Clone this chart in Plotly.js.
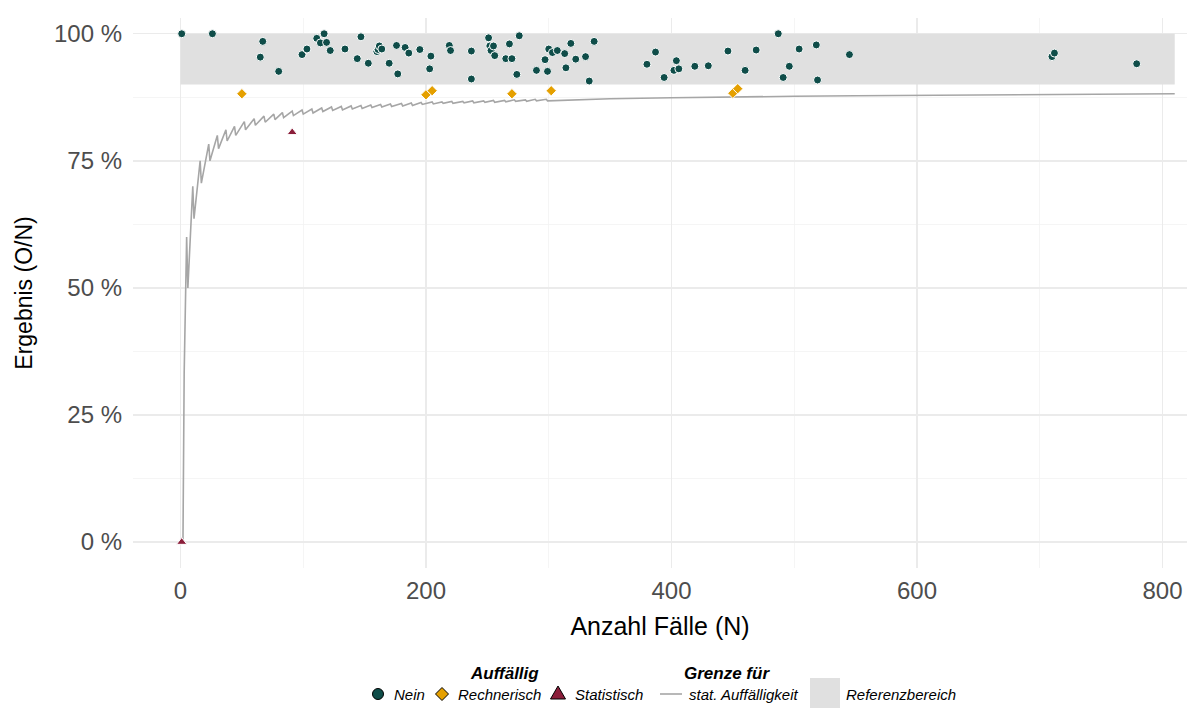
<!DOCTYPE html>
<html>
<head>
<meta charset="utf-8">
<script src="https://cdn.plot.ly/plotly-3.0.1.min.js"></script>
<style>html,body{margin:0;padding:0;background:#fff;}#chart{width:1194px;height:708px;}</style>
</head>
<body>
<div id="chart"></div>
<script>
// ---- Data ----
// Unauffällig (Nein): N, result
const neinN = [1, 26, 65, 67, 80, 99, 103, 111, 117, 114, 119, 122, 134, 147, 144, 153, 160, 161, 162, 164, 170, 176, 177, 183, 186, 195, 204, 203, 219, 220, 237, 237, 251, 252, 253, 255, 256, 265, 268, 270, 276, 274, 290, 297, 299, 300, 303, 307, 313, 318, 314, 322, 330, 333, 337, 380, 387, 394, 402, 404, 406, 419, 430, 446, 469, 460, 487, 491, 496, 504, 518, 519, 545, 710, 712, 779];
const neinY = [1.000, 1.000, 0.954, 0.985, 0.926, 0.959, 0.970, 0.991, 1.000, 0.982, 0.983, 0.967, 0.970, 0.994, 0.951, 0.942, 0.965, 0.969, 0.976, 0.970, 0.942, 0.977, 0.921, 0.973, 0.962, 0.969, 0.956, 0.931, 0.977, 0.967, 0.966, 0.911, 0.992, 0.976, 0.967, 0.976, 0.957, 0.951, 0.980, 0.951, 0.996, 0.920, 0.928, 0.949, 0.926, 0.970, 0.963, 0.967, 0.961, 0.981, 0.933, 0.950, 0.955, 0.907, 0.985, 0.940, 0.964, 0.914, 0.928, 0.947, 0.931, 0.936, 0.937, 0.966, 0.968, 0.928, 1.000, 0.914, 0.936, 0.970, 0.978, 0.909, 0.959, 0.955, 0.962, 0.941];
// Rechnerisch auffällig
const rechN = [50, 200, 205, 270, 302, 450, 454];
const rechY = [0.882, 0.880, 0.888, 0.882, 0.888, 0.883, 0.892];
// Statistisch auffällig
const statN = [1, 91];
const statY = [0.000, 0.806];
// Grenze für statistische Auffälligkeit (read along the sawtooth)
const grenzeN = [1, 2, 3, 4, 5, 6, 10, 11, 16, 17, 23, 24, 30, 31, 37, 38, 44, 45, 52, 53, 60, 61, 68, 69, 76, 77, 83, 84, 91, 92, 99, 100, 107, 108, 115, 116, 123, 124, 131, 132, 139, 140, 147, 148, 155, 156, 163, 164, 171, 172, 180, 181, 188, 189, 196, 197, 205, 206, 213, 214, 221, 222, 230, 231, 238, 239, 247, 248, 255, 256, 264, 265, 272, 273, 281, 282, 289, 290, 298, 299, 350, 400, 450, 500, 550, 600, 650, 700, 750, 810];
const grenzeY = [0.000, 0.000, 0.333, 0.500, 0.600, 0.500, 0.700, 0.636, 0.750, 0.706, 0.783, 0.750, 0.800, 0.774, 0.811, 0.789, 0.818, 0.800, 0.827, 0.811, 0.833, 0.820, 0.838, 0.826, 0.842, 0.831, 0.845, 0.835, 0.848, 0.839, 0.850, 0.842, 0.852, 0.844, 0.854, 0.847, 0.856, 0.849, 0.857, 0.850, 0.858, 0.852, 0.859, 0.853, 0.860, 0.855, 0.861, 0.856, 0.862, 0.857, 0.863, 0.858, 0.864, 0.859, 0.865, 0.861, 0.866, 0.862, 0.866, 0.863, 0.867, 0.863, 0.867, 0.864, 0.868, 0.864, 0.868, 0.865, 0.869, 0.865, 0.869, 0.866, 0.870, 0.867, 0.870, 0.867, 0.871, 0.868, 0.871, 0.868, 0.872, 0.874, 0.876, 0.877, 0.878, 0.879, 0.880, 0.881, 0.881, 0.882];
// Referenzbereich
const refXmin = 0, refXmax = 810, refLow = 0.90, refHigh = 1.00;
// Tick labels
const yTickVals = [0, 0.25, 0.5, 0.75, 1];
const yTickText = ['0 %', '25 %', '50 %', '75 %', '100 %'];
const xTickVals = [0, 200, 400, 600, 800];
// Legend labels
const legendTitles = ['Auffällig', 'Grenze für'];
const legendLabels = ['Nein', 'Rechnerisch', 'Statistisch', 'stat. Auffälligkeit', 'Referenzbereich'];

const FONT = 'Liberation Sans, Arial, Helvetica, sans-serif';
const COL_NEIN = '#0f4d49', COL_RECH = '#e5a000', COL_STAT = '#8b1e3a', COL_LINE = '#a6a6a6', COL_REF = '#e0e0e0';

const traces = [
  {
    type: 'scatter', mode: 'lines', name: legendLabels[4],
    x: [refXmin, refXmax, refXmax, refXmin, refXmin],
    y: [refLow, refLow, refHigh, refHigh, refLow],
    fill: 'toself', fillcolor: COL_REF, line: {width: 0, color: COL_REF}, hoverinfo: 'skip'
  },
  {
    type: 'scatter', mode: 'lines', name: legendLabels[3],
    x: grenzeN, y: grenzeY, line: {color: COL_LINE, width: 1.6}
  },
  {
    type: 'scatter', mode: 'markers', name: legendLabels[0], x: neinN, y: neinY,
    marker: {symbol: 'circle', size: 8, color: COL_NEIN, line: {color: '#ffffff', width: 1}}
  },
  {
    type: 'scatter', mode: 'markers', name: legendLabels[1], x: rechN, y: rechY,
    marker: {symbol: 'diamond', size: 8, color: COL_RECH, line: {color: '#ffffff', width: 1}}
  },
  {
    type: 'scatter', mode: 'markers', name: legendLabels[2], x: statN, y: statY,
    marker: {symbol: 'triangle-up', size: 9, color: COL_STAT, line: {color: '#ffffff', width: 1}}
  }
];

// ---- Manual legend (ggplot style) in paper coordinates ----
const M = {l: 133, r: 7, t: 18, b: 140};
const PW = 1194 - M.l - M.r, PH = 708 - M.t - M.b;
const px = v => (v - M.l) / PW;
const py = v => (708 - M.b - v) / PH;
const legY = 694;
const shapes = [];
const annotations = [];
// circle
shapes.push({type: 'circle', xref: 'paper', yref: 'paper', x0: px(372.5), x1: px(383.5), y0: py(699.5), y1: py(688.5), fillcolor: COL_NEIN, line: {color: '#000', width: 1}});
// diamond
shapes.push({type: 'path', xref: 'paper', yref: 'paper', path: `M ${px(442)} ${py(687.5)} L ${px(448.5)} ${py(694)} L ${px(442)} ${py(700.5)} L ${px(435.5)} ${py(694)} Z`, fillcolor: COL_RECH, line: {color: '#000', width: 1}});
// triangle
shapes.push({type: 'path', xref: 'paper', yref: 'paper', path: `M ${px(558)} ${py(686)} L ${px(565.5)} ${py(699)} L ${px(550.5)} ${py(699)} Z`, fillcolor: COL_STAT, line: {color: '#000', width: 1}});
// line
shapes.push({type: 'line', xref: 'paper', yref: 'paper', x0: px(660), x1: px(682), y0: py(legY), y1: py(legY), line: {color: COL_LINE, width: 1.6}});
// square
shapes.push({type: 'rect', xref: 'paper', yref: 'paper', x0: px(810), x1: px(840), y0: py(710), y1: py(678), fillcolor: COL_REF, line: {width: 0}});

const labX = [392, 456, 573, 687, 844];
labX.forEach((x, i) => annotations.push({
  xref: 'paper', yref: 'paper', x: px(x), y: py(legY), xanchor: 'left', yanchor: 'middle',
  text: legendLabels[i], showarrow: false, font: {size: 15, color: '#000', style: 'italic', family: FONT}
}));
[[504, legendTitles[0]], [727, legendTitles[1]]].forEach(([x, t]) => annotations.push({
  xref: 'paper', yref: 'paper', x: px(x), y: py(673), xanchor: 'center', yanchor: 'middle',
  text: '<b>' + t + '</b>', showarrow: false, font: {size: 17, color: '#000', style: 'italic', family: FONT}
}));

const layout = {
  width: 1194, height: 708,
  margin: M,
  paper_bgcolor: '#ffffff', plot_bgcolor: '#ffffff',
  font: {family: FONT, color: '#000'},
  showlegend: false,
  shapes: shapes,
  annotations: annotations,
  xaxis: {
    range: [-38.7, 820], tickvals: xTickVals, ticktext: xTickVals.map(String),
    showgrid: true, gridcolor: '#ebebeb', gridwidth: 1.4, zeroline: false,
    showline: false, ticks: '', automargin: false,
    minor: {dtick: 100, tick0: 0, showgrid: true, gridcolor: '#f3f3f3', gridwidth: 0.8},
    tickfont: {size: 24, color: '#4d4d4d'}, ticklabelstandoff: 6,
    title: {text: 'Anzahl Fälle (N)', font: {size: 25, color: '#000'}, standoff: 14}
  },
  yaxis: {
    range: [-0.051, 1.031], tickvals: yTickVals, ticktext: yTickText,
    showgrid: true, gridcolor: '#ebebeb', gridwidth: 1.4, zeroline: false,
    showline: false, ticks: '', automargin: false,
    minor: {dtick: 0.125, tick0: 0, showgrid: true, gridcolor: '#f3f3f3', gridwidth: 0.8},
    tickfont: {size: 24, color: '#4d4d4d'}, ticklabelstandoff: 10,
    title: {text: 'Ergebnis (O/N)', font: {size: 23, color: '#000'}, standoff: 14}
  }
};

Plotly.newPlot('chart', traces, layout, {displayModeBar: false, staticPlot: true});
</script>
</body>
</html>
